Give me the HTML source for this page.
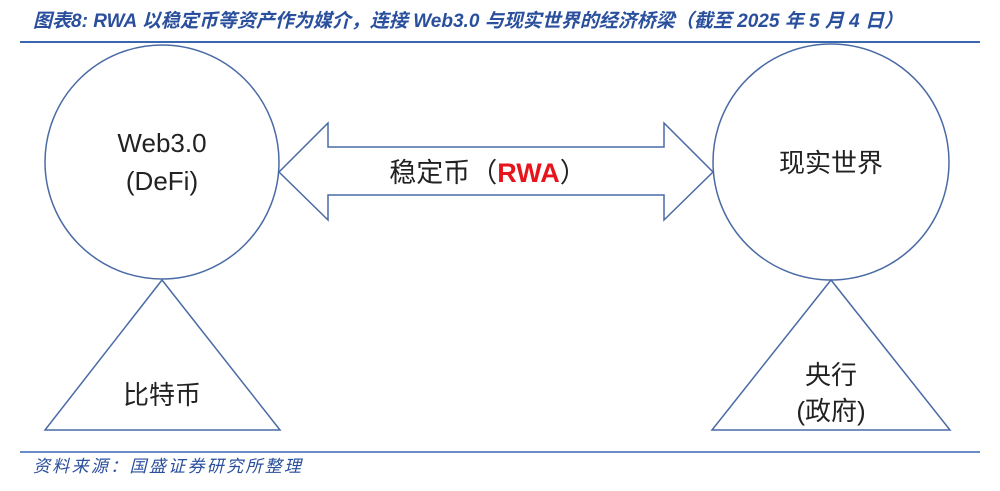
<!DOCTYPE html><html><head><meta charset="utf-8"><style>
body{margin:0;width:1000px;height:486px;background:#fff;overflow:hidden;font-family:"Liberation Sans","Noto Sans CJK SC",sans-serif}
</style></head><body>
<svg width="1000" height="486" xmlns="http://www.w3.org/2000/svg">
<text x="33" y="27" font-size="19" font-style="italic" font-weight="bold" fill="#2a4f9c" textLength="870" font-family="Liberation Sans,Noto Sans CJK SC,sans-serif">图表8:  RWA 以稳定币等资产作为媒介，连接 Web3.0 与现实世界的经济桥梁（截至 2025 年 5 月 4 日）</text>
<line x1="20" y1="42" x2="980" y2="42" stroke="#3a67b0" stroke-width="2"/>
<g fill="none" stroke="#4a6aa5" stroke-width="1.5">
<circle cx="162" cy="162" r="117"/>
<circle cx="831" cy="162" r="118"/>
<polygon points="162,280 45,430 280,430"/>
<polygon points="831,280 712,430 950,430"/>
<polygon points="279,172 328,123 328,147 664,147 664,123 713,172 664,220 664,195 328,195 328,220"/>
</g>
<g font-size="26" fill="#222" text-anchor="middle">
<text x="162" y="152">Web3.0</text>
<text x="162" y="190">(DeFi)</text>
<text x="831" y="172">现实世界</text>
<text x="162" y="404">比特币</text>
<text x="831" y="384">央行</text>
<text x="831" y="420">(政府)</text>
<text x="488" y="182" font-size="27">稳定币（<tspan fill="#e8141b" font-weight="bold">RWA</tspan>）</text>
</g>
<line x1="20" y1="452" x2="980" y2="452" stroke="#3a67b0" stroke-width="1.5"/>
<text x="33" y="472" font-size="17" font-style="italic" fill="#2a4f9c" textLength="268">资料来源：国盛证券研究所整理</text>
</svg>
</body></html>
